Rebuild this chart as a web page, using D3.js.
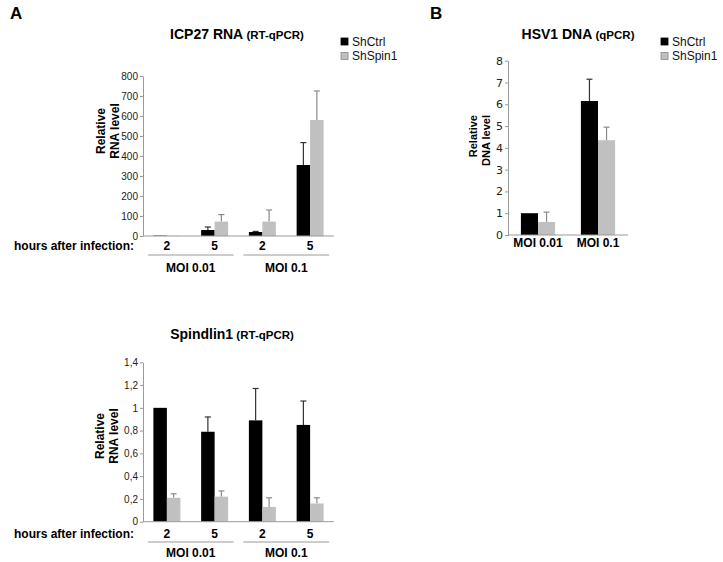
<!DOCTYPE html>
<html>
<head>
<meta charset="utf-8">
<script src="https://cdn.jsdelivr.net/npm/d3@7"></script>
<style>
  body { margin: 0; background: #fff; }
  svg { display: block; font-family: "Liberation Sans", Arial, sans-serif; }
  .bold { font-weight: bold; }
</style>
</head>
<body>
<svg id="fig" width="723" height="562"></svg>
<script>
// ---- data ----
const series = ["ShCtrl", "ShSpin1"]
const conditions = ["0.01-2", "0.01-5", "0.1-2", "0.1-5"]
const hourLabels = ["2", "5", "2", "5"]
const moiLabels = ["MOI 0.01", "MOI 0.1"]

const icp27Ctrl = [2, 30, 20, 355]
const icp27CtrlErr = [0, 15, 3, 112]
const icp27Spin = [1, 72, 72, 580]
const icp27SpinErr = [0, 35, 58, 145]
const icp27Ticks = [0, 100, 200, 300, 400, 500, 600, 700, 800]

const spinCtrl = [1, 0.79, 0.89, 0.85]
const spinCtrlErr = [0, 0.13, 0.28, 0.21]
const spinSpin = [0.21, 0.22, 0.13, 0.16]
const spinSpinErr = [0.035, 0.05, 0.08, 0.05]
const spinTicks = [0, 0.2, 0.4, 0.6, 0.8, 1, 1.2, 1.4]

const hsvCtrl = [1, 6.15]
const hsvCtrlErr = [0, 1.0]
const hsvSpin = [0.6, 4.35]
const hsvSpinErr = [0.45, 0.6]
const hsvTicks = [0, 1, 2, 3, 4, 5, 6, 7, 8]

const colors = { "ShCtrl": "#000000", "ShSpin1": "#c0c0c0" }
const errColors = { "ShCtrl": "#333333", "ShSpin1": "#8a8a8a" }

const svg = d3.select("#fig")

// panel letters
svg.append("text").attr("class", "bold").attr("x", 10).attr("y", 19)
    .attr("font-size", 17).text("A")
svg.append("text").attr("class", "bold").attr("x", 430).attr("y", 19)
    .attr("font-size", 17).text("B")

// generic bar chart
function drawBars(opts) {
    const x = d3.scaleBand().domain(opts.cats).range(opts.xRange)
        .paddingInner(opts.pad).paddingOuter(opts.pad / 2)
    const xs = d3.scaleBand().domain(series).range([0, x.bandwidth()])
    const y = d3.scaleLinear().domain(opts.yDomain).range(opts.yRange)

    const g = svg.append("g")

    // y axis
    const yAxis = g.append("g")
        .attr("transform", `translate(${opts.xRange[0]},0)`)
        .call(d3.axisLeft(y).tickValues(opts.ticks).tickSize(3).tickSizeOuter(0)
            .tickPadding(2).tickFormat(opts.fmt))
    yAxis.select(".domain").attr("stroke", "#9a9a9a")
    yAxis.selectAll(".tick line").attr("stroke", "#9a9a9a")
    yAxis.selectAll(".tick text").attr("fill", "#222")
        .attr("font-size", opts.tickSize)
        .attr("font-family", opts.tickFont)

    const data = []
    opts.cats.forEach((c, i) => {
        data.push({ c: c, s: "ShCtrl", v: opts.ctrl[i], e: opts.ctrlErr[i] })
        data.push({ c: c, s: "ShSpin1", v: opts.spin[i], e: opts.spinErr[i] })
    })

    // error bars
    const eb = g.selectAll(".err").data(data.filter(d => d.e > 0)).join("g")
        .attr("stroke", d => errColors[d.s]).attr("stroke-width", 1.2)
    eb.append("line")
        .attr("x1", d => x(d.c) + xs(d.s) + xs.bandwidth() / 2)
        .attr("x2", d => x(d.c) + xs(d.s) + xs.bandwidth() / 2)
        .attr("y1", d => y(d.v)).attr("y2", d => y(d.v + d.e))
    eb.append("line")
        .attr("x1", d => x(d.c) + xs(d.s) + xs.bandwidth() / 2 - 3)
        .attr("x2", d => x(d.c) + xs(d.s) + xs.bandwidth() / 2 + 3)
        .attr("y1", d => y(d.v + d.e)).attr("y2", d => y(d.v + d.e))

    // bars
    g.selectAll(".bar").data(data).join("rect")
        .attr("x", d => x(d.c) + xs(d.s))
        .attr("width", xs.bandwidth())
        .attr("y", d => y(d.v))
        .attr("height", d => y(0) - y(d.v))
        .attr("fill", d => colors[d.s])

    // x axis line
    g.append("line")
        .attr("x1", opts.xRange[0]).attr("x2", opts.xRange[1])
        .attr("y1", y(0)).attr("y2", y(0))
        .attr("stroke", "#9a9a9a")

    // title
    const t = g.append("text").attr("class", "bold")
        .attr("x", opts.titleX).attr("y", opts.titleY)
        .attr("text-anchor", "middle")
    t.append("tspan").attr("font-size", 14).text(opts.title[0])
    t.append("tspan").attr("font-size", 11.5).text(" " + opts.title[1])

    // y label
    opts.yLabel.forEach((s, i) => {
        g.append("text").attr("class", "bold")
            .attr("transform", `translate(${opts.yLabelX[i]},${opts.yLabelY}) rotate(-90)`)
            .attr("text-anchor", opts.yLabelAnchor || "middle")
            .attr("font-size", opts.yLabelSize)
            .text(s)
    })

    return { x: x, y: y, g: g }
}

function drawHours(c, hoursY, lineY, moiY) {
    const x = c.x
    c.g.append("text").attr("class", "bold").attr("x", 134).attr("y", hoursY)
        .attr("text-anchor", "end").attr("font-size", 12)
        .text("hours after infection:")
    c.g.selectAll(".hr").data(conditions).join("text")
        .attr("class", "bold")
        .attr("x", d => x(d) + x.bandwidth() / 2)
        .attr("y", hoursY).attr("text-anchor", "middle").attr("font-size", 12)
        .text((d, i) => hourLabels[i])
    moiLabels.forEach((m, k) => {
        const a = x(conditions[2 * k]) + x.bandwidth() / 2
        const b = x(conditions[2 * k + 1]) + x.bandwidth() / 2
        c.g.append("line")
            .attr("x1", a - 19).attr("x2", b + 19)
            .attr("y1", lineY).attr("y2", lineY)
            .attr("stroke", "#9a9a9a")
        c.g.append("text").attr("class", "bold")
            .attr("x", (a + b) / 2).attr("y", moiY)
            .attr("text-anchor", "middle").attr("font-size", 12)
            .text(m)
    })
}

function drawLegend(x0, y0) {
    series.forEach((s, i) => {
        svg.append("rect")
            .attr("x", x0).attr("y", y0 + i * 14.5)
            .attr("width", 7).attr("height", 7)
            .attr("fill", colors[s])
            .attr("stroke", i ? "#888" : "#000").attr("stroke-width", 0.8)
        svg.append("text")
            .attr("x", x0 + 11).attr("y", y0 + 7.5 + i * 14.5)
            .attr("font-size", 12).attr("fill", "#111")
            .text(s)
    })
}

// ICP27 RNA
const c1 = drawBars({
    cats: conditions, xRange: [143, 334], pad: 0.435,
    yDomain: [0, 800], yRange: [236, 76], ticks: icp27Ticks,
    fmt: d3.format("d"), tickSize: 10, tickFont: "Liberation Sans, Arial, sans-serif",
    ctrl: icp27Ctrl, ctrlErr: icp27CtrlErr, spin: icp27Spin, spinErr: icp27SpinErr,
    title: ["ICP27 RNA", "(RT-qPCR)"], titleX: 237, titleY: 39,
    yLabel: ["Relative", "RNA level"], yLabelX: [105, 119], yLabelY: 131, yLabelSize: 12
})
drawHours(c1, 249.5, 255, 272)
drawLegend(341, 38)

// Spindlin1
const c2 = drawBars({
    cats: conditions, xRange: [143, 334], pad: 0.435,
    yDomain: [0, 1.4], yRange: [521.7, 362.3], ticks: spinTicks,
    fmt: d => String(+d.toFixed(1)).replace(".", ","), tickSize: 10,
    tickFont: "Liberation Sans, Arial, sans-serif",
    ctrl: spinCtrl, ctrlErr: spinCtrlErr, spin: spinSpin, spinErr: spinSpinErr,
    title: ["Spindlin1", "(RT-qPCR)"], titleX: 232, titleY: 339,
    yLabel: ["Relative", "RNA level"], yLabelX: [104, 118], yLabelY: 436, yLabelSize: 12
})
drawHours(c2, 538, 542, 557)

// HSV1 DNA
const c3 = drawBars({
    cats: moiLabels, xRange: [508, 628], pad: 0.43,
    yDomain: [0, 8], yRange: [235, 60.7], ticks: hsvTicks,
    fmt: d3.format("d"), tickSize: 11, tickFont: "DejaVu Sans, Verdana, sans-serif",
    ctrl: hsvCtrl, ctrlErr: hsvCtrlErr, spin: hsvSpin, spinErr: hsvSpinErr,
    title: ["HSV1 DNA", "(qPCR)"], titleX: 578, titleY: 39,
    yLabel: ["Relative", "DNA level"], yLabelX: [477, 490], yLabelY: 115,
    yLabelAnchor: "end", yLabelSize: 11
})
c3.g.selectAll(".moi").data(moiLabels).join("text")
    .attr("class", "bold")
    .attr("x", d => c3.x(d) + c3.x.bandwidth() / 2)
    .attr("y", 247).attr("text-anchor", "middle").attr("font-size", 12)
    .text(d => d)
drawLegend(661, 38)
</script>
</body>
</html>
